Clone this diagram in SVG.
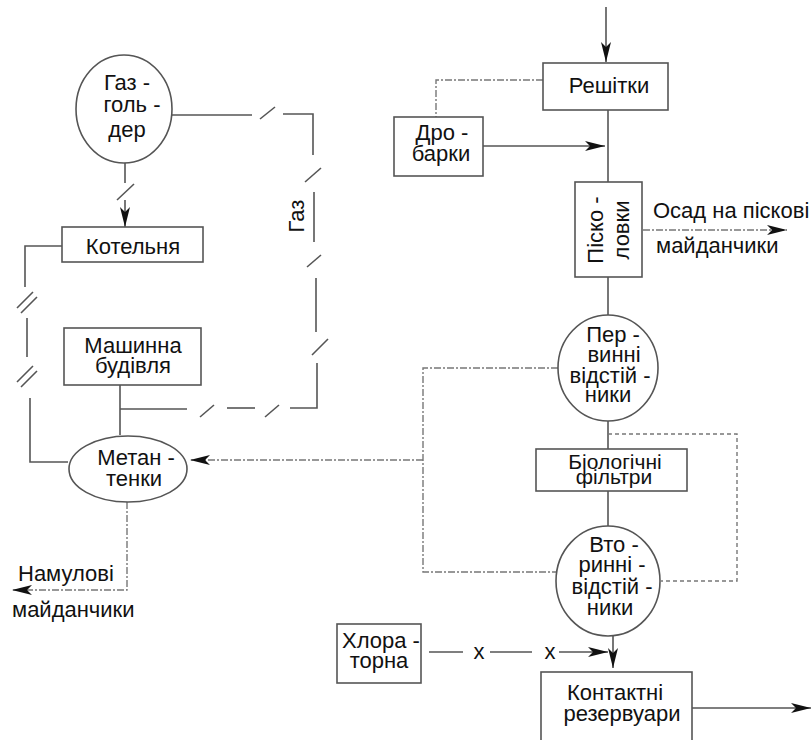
<svg xmlns="http://www.w3.org/2000/svg" width="812" height="740" viewBox="0 0 812 740">
<defs>
<style>
.bg{fill:#fff}
.box{fill:#fff;stroke:#555;stroke-width:1.6}
.ln{fill:none;stroke:#555;stroke-width:1.6}
.dd{fill:none;stroke:#777;stroke-width:1.4;stroke-dasharray:7 2 2 2}
.ds{fill:none;stroke:#777;stroke-width:1.4;stroke-dasharray:4 3}
text{font-family:"Liberation Sans",Arial,sans-serif;font-size:22px;fill:#111}
.m{text-anchor:middle}
.s{font-size:21px}
</style>
<marker id="arr" viewBox="0 0 20 10" refX="20" refY="5" markerWidth="20" markerHeight="10" orient="auto" markerUnits="userSpaceOnUse">
<path d="M0,0 L20,5 L0,10 L5,5 z" fill="#111"/>
</marker>
</defs>
<rect class="bg" x="0" y="0" width="812" height="740"/>

<g id="connectors">
<path class="ln" d="M125,163 V183"/>
<path class="ln" d="M117,200 L134,184"/>
<path class="ln" d="M125,200 V227" marker-end="url(#arr)"/>
<path class="ln" d="M172,115 H252"/>
<path class="ln" d="M260,119 L275,107"/>
<path class="ln" d="M283,114 H313 V155"/>
<path class="ln" d="M305,182 L321,168"/>
<path class="ln" d="M314,192 V242"/>
<path class="ln" d="M307,267 L321,255"/>
<path class="ln" d="M316,278 V332"/>
<path class="ln" d="M312,355 L328,339"/>
<path class="ln" d="M317,363 V408 H290"/>
<path class="ln" d="M265,417 L279,405"/>
<path class="ln" d="M255,408 H227"/>
<path class="ln" d="M200,417 L214,405"/>
<path class="ln" d="M187,409 H120"/>
<path class="ln" d="M120,385 V435"/>
<path class="ln" d="M62,246 H25 V287"/>
<path class="ln" d="M17,308 L33,292 M21,313 L37,297"/>
<path class="ln" d="M27,318 V357"/>
<path class="ln" d="M17,382 L33,366 M21,387 L37,371"/>
<path class="ln" d="M30,398 V462 H68"/>
<path class="dd" d="M558,368 H423 V572 H556"/>
<path class="dd" d="M423,460 H190" marker-end="url(#arr)"/>
<path class="dd" d="M127,502 V590 H12" marker-end="url(#arr)"/>
<path class="ln" d="M606,7 V62" marker-end="url(#arr)"/>
<path class="dd" d="M543,80 H436 V117"/>
<path class="ln" d="M483,146 H605" marker-end="url(#arr)"/>
<path class="ln" d="M608,110 V182"/>
<path class="dd" d="M643,230 H787" marker-end="url(#arr)"/>
<path class="ln" d="M608,277 V315"/>
<path class="ln" d="M608,421 V449"/>
<path class="ln" d="M608,491 V527"/>
<path class="ds" d="M608,434 H737 V581 H661"/>
<path class="ln" d="M613,636 V668" marker-end="url(#arr)"/>
<path class="ln" d="M429,652 H463 M490,652 H532"/>
<path class="ln" d="M559,652 H608" marker-end="url(#arr)"/>
<path class="ln" d="M692,708 H811" marker-end="url(#arr)"/>
</g>

<text x="479" y="659" class="m">x</text>
<text x="550" y="659" class="m">x</text>
<text transform="translate(304,216) rotate(-90)" class="m">Газ</text>
<text x="653" y="218">Осад на піскові</text>
<text x="656" y="253">майданчики</text>
<text x="18" y="581">Намулові</text>
<text x="12" y="617">майданчики</text>

<g id="gasholder">
<ellipse class="box" cx="124" cy="109" rx="48" ry="54"/>
<text x="127" y="90" class="m">Газ -</text>
<text x="132" y="112" class="m">голь -</text>
<text x="127" y="137" class="m">дер</text>
</g>
<g id="boiler">
<rect class="box" x="62" y="227" width="141" height="35"/>
<text x="133" y="254" class="m">Котельня</text>
</g>
<g id="machine">
<rect class="box" x="64" y="328" width="137" height="57"/>
<text x="133" y="353" class="m">Машинна</text>
<text x="133" y="373" class="m">будівля</text>
</g>
<g id="methane">
<ellipse class="box" cx="128" cy="469" rx="59" ry="33"/>
<text x="136" y="465" class="m">Метан -</text>
<text x="134" y="486" class="m">тенки</text>
</g>
<g id="screens">
<rect class="box" x="543" y="63" width="125" height="47"/>
<text x="609" y="93" class="m">Решітки</text>
</g>
<g id="crushers">
<rect class="box" x="394" y="117" width="89" height="59"/>
<text x="442" y="140" class="m">Дро -</text>
<text x="441" y="161" class="m">барки</text>
</g>
<g id="grit">
<rect class="box" x="575" y="182" width="67" height="95"/>
<text transform="translate(603,230) rotate(-90)" class="m">Піско -</text>
<text transform="translate(629,230) rotate(-90)" class="m">ловки</text>
</g>
<g id="primary">
<ellipse class="box" cx="608" cy="368" rx="50" ry="53"/>
<text x="613" y="342" class="m">Пер -</text>
<text x="614" y="362" class="m">винні</text>
<text x="610" y="383" class="m">відстій -</text>
<text x="608" y="402" class="m">ники</text>
</g>
<g id="biofilters">
<rect class="box" x="536" y="449" width="151" height="42"/>
<text x="615" y="469" class="m s">Біологічні</text>
<text x="614" y="484" class="m s">фільтри</text>
</g>
<g id="secondary">
<ellipse class="box" cx="608" cy="581" rx="52" ry="55"/>
<text x="614" y="552" class="m">Вто -</text>
<text x="612" y="572" class="m">ринні -</text>
<text x="612" y="594" class="m">відстій -</text>
<text x="610" y="615" class="m">ники</text>
</g>
<g id="chlorinator">
<rect class="box" x="337" y="624" width="84" height="59"/>
<text x="381" y="648" class="m">Хлора -</text>
<text x="379" y="668" class="m">торна</text>
</g>
<g id="contact">
<rect class="box" x="541" y="672" width="151" height="80"/>
<text x="615" y="700" class="m">Контактні</text>
<text x="622" y="721" class="m">резервуари</text>
</g>
</svg>
